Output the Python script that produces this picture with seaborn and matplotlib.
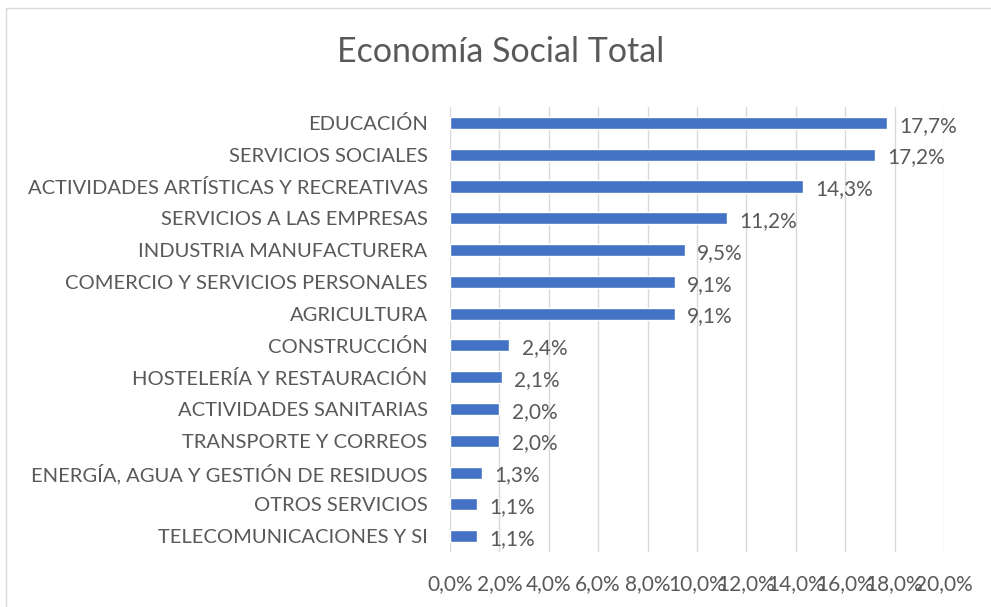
import matplotlib
matplotlib.use("Agg")
import matplotlib.pyplot as plt
import matplotlib.patches as mpatches
from matplotlib.ticker import FuncFormatter
import seaborn as sns
import pandas as pd

# data (share of employment, %)
sectors = [
    "EDUCACIÓN",
    "SERVICIOS SOCIALES",
    "ACTIVIDADES ARTÍSTICAS Y RECREATIVAS",
    "SERVICIOS A LAS EMPRESAS",
    "INDUSTRIA MANUFACTURERA",
    "COMERCIO Y SERVICIOS PERSONALES",
    "AGRICULTURA",
    "CONSTRUCCIÓN",
    "HOSTELERÍA Y RESTAURACIÓN",
    "ACTIVIDADES SANITARIAS",
    "TRANSPORTE Y CORREOS",
    "ENERGÍA, AGUA Y GESTIÓN DE RESIDUOS",
    "OTROS SERVICIOS",
    "TELECOMUNICACIONES Y SI",
]
shares = [17.7, 17.2, 14.3, 11.2, 9.5, 9.1, 9.1, 2.4, 2.1, 2.0, 2.0, 1.3, 1.1, 1.1]
x_ticks = [0, 2, 4, 6, 8, 10, 12, 14, 16, 18, 20]

BAR_COLOR = "#4472C4"
TEXT_COLOR = "#595959"
GRID_COLOR = "#D9D9D9"


def pct(v):
    return f"{v:.1f}%".replace(".", ",")


df = pd.DataFrame({"Sector": sectors, "Share": shares})

sns.set_style("white")
plt.rcParams["font.family"] = ["Lato", "DejaVu Sans"]

fig = plt.figure(figsize=(9.91, 6.07), dpi=100)
ax = fig.add_axes([0.454, 0.0906, 0.4985, 0.733])

sns.barplot(data=df, x="Share", y="Sector", orient="h", color=BAR_COLOR,
            width=0.38, saturation=1, ax=ax, zorder=3)

ax.set_xlim(0, 20)
ax.set_ylim(len(sectors) - 0.5, -0.5)
ax.set_xticks(x_ticks)
ax.xaxis.set_major_formatter(FuncFormatter(lambda v, _: pct(v)))
ax.grid(axis="x", color=GRID_COLOR, linewidth=1, zorder=0)
ax.grid(axis="y", visible=False)
for s in ax.spines.values():
    s.set_visible(False)
ax.set_xlabel("")
ax.set_ylabel("")
ax.tick_params(axis="x", length=0, pad=16, labelsize=15, labelcolor=TEXT_COLOR)
ax.tick_params(axis="y", length=0, pad=16, labelsize=14.5, labelcolor=TEXT_COLOR)

for i, v in enumerate(shares):
    ax.annotate(pct(v), (v, i), xytext=(9, -2), textcoords="offset points",
                va="center", ha="left", fontsize=15, color=TEXT_COLOR)

fig.text(0.5055, 0.914, "Economía Social Total", ha="center", va="center",
         fontsize=24.5, color=TEXT_COLOR)

# light chart-area border like the spreadsheet frame (right/bottom edges off-canvas)
fig.patches.append(mpatches.Rectangle((6 / 991, -0.5), 2.0, 1.5 - 8 / 607,
                                      transform=fig.transFigure, fill=False,
                                      edgecolor=GRID_COLOR, linewidth=1))

fig.savefig("out.png", dpi=100)
